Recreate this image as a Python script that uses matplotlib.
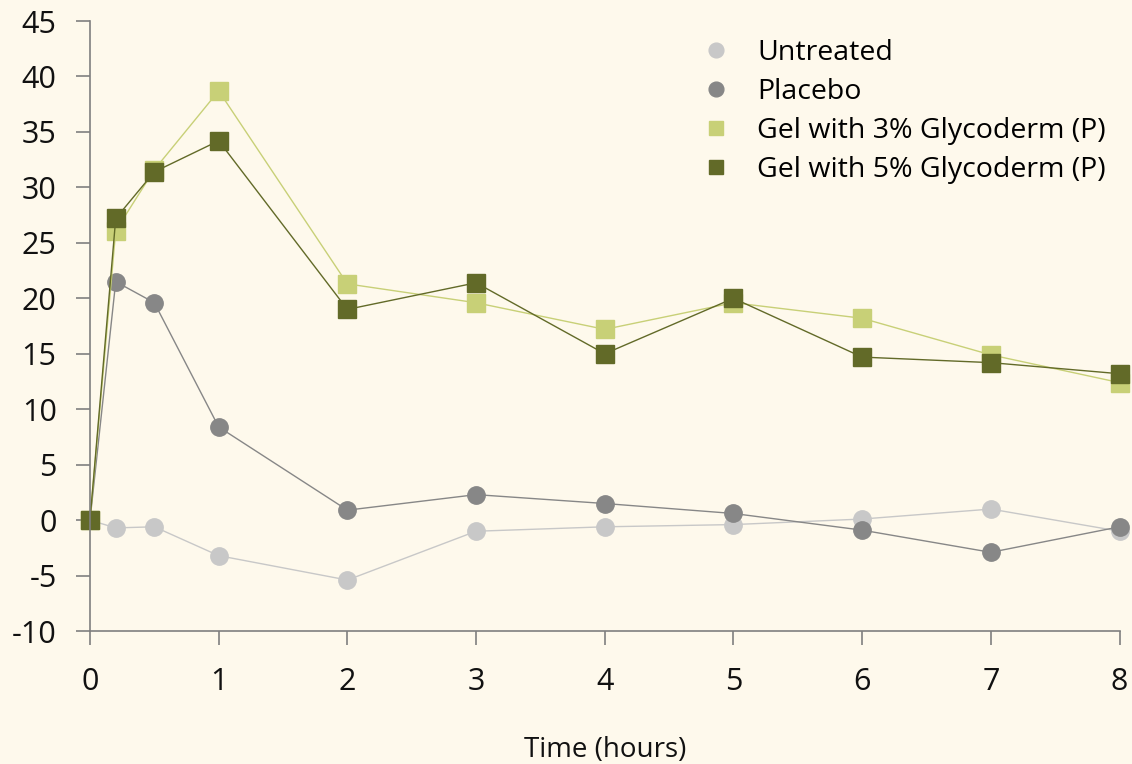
import matplotlib.pyplot as plt

plt.rcParams['font.family'] = ['Open Sans', 'DejaVu Sans']
plt.rcParams['axes.unicode_minus'] = False

hours = [0, 0.2, 0.5, 1, 2, 3, 4, 5, 6, 7, 8]
untreated = [0, -0.7, -0.6, -3.2, -5.4, -1.0, -0.6, -0.4, 0.1, 1.0, -1.0]
placebo = [0, 21.5, 19.6, 8.4, 0.9, 2.3, 1.5, 0.6, -0.9, -2.9, -0.6]
gel3 = [0, 26.1, 31.6, 38.7, 21.3, 19.6, 17.2, 19.6, 18.2, 14.9, 12.4]
gel5 = [0, 27.2, 31.4, 34.2, 19.0, 21.4, 15.0, 20.0, 14.7, 14.2, 13.2]

bg = '#fef9ec'
fig = plt.figure(figsize=(11.32, 7.64), dpi=100, facecolor=bg)
ax = fig.add_axes([0.0795, 0.174, 0.9095, 0.7985], facecolor=bg)

series = [
    ('Untreated', untreated, '#c8c8c8', 'o'),
    ('Placebo', placebo, '#878787', 'o'),
    ('Gel with 3% Glycoderm (P)', gel3, '#c8d077', 's'),
    ('Gel with 5% Glycoderm (P)', gel5, '#626a28', 's'),
]
for name, vals, col, mk in series:
    ax.plot(hours, vals, color=col, lw=1, marker=mk, ms=12.5, mec=col,
            mfc=col, label=name, clip_on=False)

ax.set_xlim(0, 8)
ax.set_ylim(-10, 45)
ax.set_xticks(range(0, 9))
ax.set_yticks(range(-10, 50, 5))
for s in ['top', 'right']:
    ax.spines[s].set_visible(False)
for s in ['left', 'bottom']:
    ax.spines[s].set_color('#7f7f7f')
    ax.spines[s].set_linewidth(1.2)
ax.tick_params(colors='#7f7f7f', labelcolor='#111111', labelsize=22,
               length=10, width=1.2)
ax.tick_params(axis='y', pad=14)
ax.tick_params(axis='x', pad=16)
ax.set_xlabel('Time (hours)', fontsize=20, color='#111111', labelpad=28)

leg = ax.legend(loc='upper left', bbox_to_anchor=(0.5695, 1.013), frameon=False,
                fontsize=20.5, markerscale=0.85, handlelength=1.0,
                handletextpad=0.95, labelspacing=0.39)
for h in leg.legend_handles:
    h.set_linestyle('')

fig.savefig('out.png', dpi=100, facecolor=bg)
